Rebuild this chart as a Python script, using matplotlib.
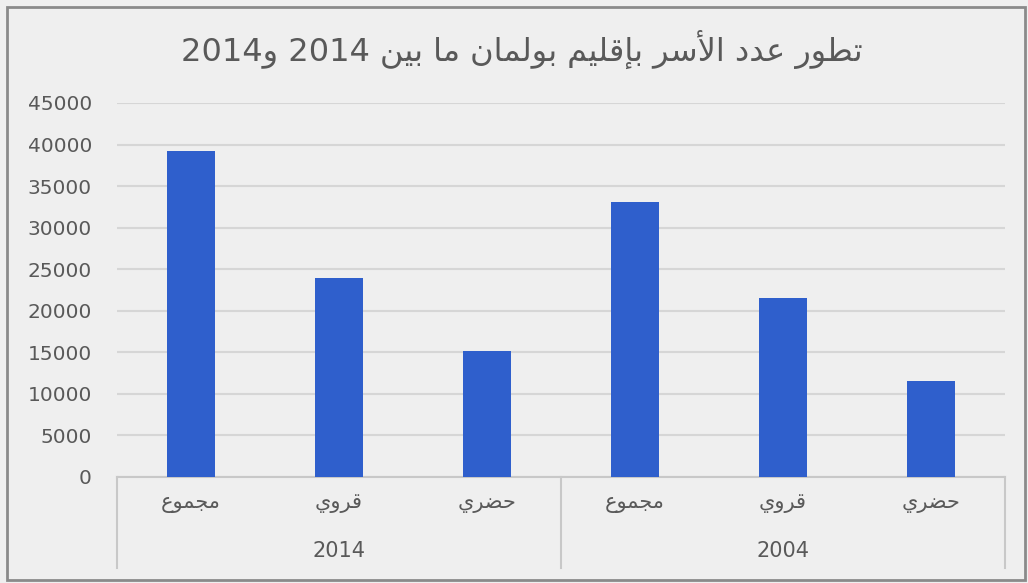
import matplotlib
matplotlib.use("Agg")
import matplotlib.pyplot as plt
import matplotlib.transforms as mtransforms

# ---------------- data ----------------
title_text = "تطور عدد الأسر بإقليم بولمان ما بين 2014 و2014"
groups = ["2014", "2004"]
categories = ["مجموع", "قروي", "حضري"]
values_2014 = [39200, 24000, 15200]
values_2004 = [33100, 21500, 11600]
yticks = [0, 5000, 10000, 15000, 20000, 25000, 30000, 35000, 40000, 45000]

# ---------------- minimal Arabic shaping ----------------
FORMS = {
    "ا": (0xFE8D, 0xFE8E, None, None),
    "أ": (0xFE83, 0xFE84, None, None),
    "إ": (0xFE87, 0xFE88, None, None),
    "ب": (0xFE8F, 0xFE90, 0xFE91, 0xFE92),
    "ت": (0xFE95, 0xFE96, 0xFE97, 0xFE98),
    "ج": (0xFE9D, 0xFE9E, 0xFE9F, 0xFEA0),
    "ح": (0xFEA1, 0xFEA2, 0xFEA3, 0xFEA4),
    "د": (0xFEA9, 0xFEAA, None, None),
    "ر": (0xFEAD, 0xFEAE, None, None),
    "س": (0xFEB1, 0xFEB2, 0xFEB3, 0xFEB4),
    "ض": (0xFEBD, 0xFEBE, 0xFEBF, 0xFEC0),
    "ط": (0xFEC1, 0xFEC2, 0xFEC3, 0xFEC4),
    "ع": (0xFEC9, 0xFECA, 0xFECB, 0xFECC),
    "ق": (0xFED5, 0xFED6, 0xFED7, 0xFED8),
    "ل": (0xFEDD, 0xFEDE, 0xFEDF, 0xFEE0),
    "م": (0xFEE1, 0xFEE2, 0xFEE3, 0xFEE4),
    "ن": (0xFEE5, 0xFEE6, 0xFEE7, 0xFEE8),
    "و": (0xFEED, 0xFEEE, None, None),
    "ي": (0xFEF1, 0xFEF2, 0xFEF3, 0xFEF4),
}
LAMALEF = {"ا": (0xFEFB, 0xFEFC), "أ": (0xFEF7, 0xFEF8), "إ": (0xFEF9, 0xFEFA)}


def dual(c):
    return c in FORMS and FORMS[c][2] is not None


def shape(s):
    out = []
    i = 0
    n = len(s)
    while i < n:
        c = s[i]
        if c not in FORMS:
            out.append(c)
            i += 1
            continue
        prev = s[i - 1] if i > 0 else ""
        jp = dual(prev)
        if c == "ل" and i + 1 < n and s[i + 1] in LAMALEF:
            iso, fin = LAMALEF[s[i + 1]]
            out.append(chr(fin if jp else iso))
            i += 2
            continue
        nxt = s[i + 1] if i + 1 < n else ""
        jn = dual(c) and nxt in FORMS
        iso, fin, ini, med = FORMS[c]
        if jp and jn:
            f = med
        elif jp:
            f = fin
        elif jn:
            f = ini
        else:
            f = iso
        out.append(chr(f))
        i += 1
    shaped = "".join(out)
    # visual reorder: RTL overall, digit runs stay LTR
    tokens = []
    buf = ""
    for ch in shaped:
        if ch.isdigit():
            buf += ch
        else:
            if buf:
                tokens.append(buf)
                buf = ""
            tokens.append(ch)
    if buf:
        tokens.append(buf)
    return "".join(reversed(tokens))


# ---------------- figure ----------------
W, H = 1028, 583
fig = plt.figure(figsize=(W / 100, H / 100), dpi=100)
bg = "#efefef"
fig.patch.set_facecolor(bg)

ax_left, ax_right = 117 / W, 1005 / W
ax_bottom, ax_top = 1 - 477 / H, 1 - 103 / H
ax = fig.add_axes([ax_left, ax_bottom, ax_right - ax_left, ax_top - ax_bottom])
ax.set_facecolor("none")

values = values_2014 + values_2004
xpos = list(range(len(values)))
ax.bar(xpos, values, width=0.32, color="#2f5fcc", zorder=3)

ax.set_xlim(-0.5, len(values) - 0.5)
ax.set_ylim(0, 45000)
ax.set_yticks(yticks)
ax.set_yticklabels([str(v) for v in yticks])
ax.tick_params(axis="y", length=0, pad=18, labelsize=14.5, labelcolor="#595959")
ax.tick_params(axis="x", length=0, bottom=False, labelbottom=False)
ax.yaxis.grid(True, color="#d6d6d6", linewidth=1.5, zorder=0)
for sp in ["left", "right", "top"]:
    ax.spines[sp].set_visible(False)
ax.spines["bottom"].set_color("#c8c8c8")
ax.spines["bottom"].set_linewidth(1.5)

trans = mtransforms.blended_transform_factory(ax.transData, ax.transAxes)
sep_bottom = (477 - 568) / (477 - 103)
for xs in [-0.5, 2.5, 5.5]:
    ax.plot([xs, xs], [0, sep_bottom], transform=trans, color="#c8c8c8",
            linewidth=1.5, clip_on=False)

cat_y = -(503 - 477) / (477 - 103)
grp_y = -(551 - 477) / (477 - 103)
labels = categories + categories
for x, lab in zip(xpos, labels):
    ax.text(x, cat_y, shape(lab), transform=trans, ha="center", va="center",
            fontsize=15, color="#595959", family="DejaVu Sans")
for gi, g in enumerate(groups):
    ax.text(gi * 3 + 1, grp_y, g, transform=trans, ha="center", va="center",
            fontsize=15, color="#595959", family="DejaVu Sans")

fig.text(522 / W, 1 - 49 / H, shape(title_text), ha="center", va="center",
         fontsize=23, color="#595959", family="DejaVu Sans")

# outer frame
frame = plt.Rectangle((7 / W, 3 / H), (1025 - 7) / W, (580 - 7) / H,
                      transform=fig.transFigure, fill=False,
                      edgecolor="#8a8a8a", linewidth=2)
fig.patches.append(frame)

fig.savefig("out.png", dpi=100, facecolor=bg)
